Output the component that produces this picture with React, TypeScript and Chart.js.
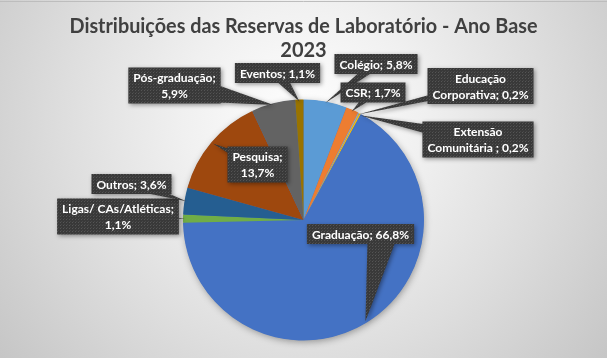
import React, { useEffect, useRef } from "react";
import { Chart, registerables } from "chart.js";

Chart.register(...registerables);

// ---- Data ----
const titleLines = ["Distribuições das Reservas de Laboratório - Ano Base", "2023"];
const categories = [
  "Colégio",
  "CSR",
  "Educação Corporativa",
  "Extensão Comunitária ",
  "Graduação",
  "Ligas/ CAs/Atléticas",
  "Outros",
  "Pesquisa",
  "Pós-graduação",
  "Eventos",
];
const values = [5.8, 1.7, 0.2, 0.2, 66.8, 1.1, 3.6, 13.7, 5.9, 1.1];
const sliceColors = [
  "#5B9BD5",
  "#ED7D31",
  "#A5A5A5",
  "#FFC000",
  "#4472C4",
  "#70AD47",
  "#255E91",
  "#9E480E",
  "#636363",
  "#997300",
];

// ---- Callout layout (box centre, words on first line, tail half-width, tail base shift) ----
const boxCenterX = [376, 373, 480.5, 478, 360.5, 118, 131.5, 257.5, 174.5, 277.5];
const boxCenterY = [64, 92.5, 86, 139.5, 234, 216.5, 184, 164.5, 85.5, 73];
const firstLineWords = [0, 0, 1, 1, 0, 2, 0, 1, 1, 0];
const tailHalfWidth = [5, 5, 5, 8, 15, 6, 6, 6, 15, 7];
const tailBaseShiftX = [0, 0, 0, 0, 22, 0, 0, 0, 0, 0];

const fmt = (v: number) => v.toFixed(1).replace(".", ",") + "%";

function labelLines(i: number): string[] {
  const full = `${categories[i]}; ${fmt(values[i])}`;
  const n = firstLineWords[i];
  if (!n) return [full];
  const words = full.split(" ");
  return [words.slice(0, n).join(" "), words.slice(n).join(" ")];
}

const LABEL_FONT = "bold 12px Lato, 'Open Sans', sans-serif";
const TITLE_FONT = "bold 20px Lato, 'Open Sans', sans-serif";

function makePattern(ctx: CanvasRenderingContext2D) {
  const pc = document.createElement("canvas");
  pc.width = 3;
  pc.height = 3;
  const g = pc.getContext("2d")!;
  g.fillStyle = "#393939";
  g.fillRect(0, 0, 3, 3);
  g.fillStyle = "#555555";
  g.fillRect(0, 0, 1, 1);
  g.fillStyle = "#474747";
  g.fillRect(1, 2, 1, 1);
  return ctx.createPattern(pc, "repeat") || "#3c3c3c";
}

const decorPlugin = {
  id: "decor",
  beforeDraw(chart: any) {
    const { ctx, width, height } = chart;
    ctx.save();
    const grad = ctx.createRadialGradient(303, 120, 0, 303, 120, 390);
    grad.addColorStop(0, "#ffffff");
    grad.addColorStop(0.31, "#f0f0f0");
    grad.addColorStop(0.61, "#dedede");
    grad.addColorStop(1, "#c5c5c5");
    ctx.fillStyle = grad;
    ctx.fillRect(0, 0, width, height);
    ctx.strokeStyle = "#bdbdbd";
    ctx.lineWidth = 1;
    ctx.beginPath();
    ctx.moveTo(0, 1.5);
    ctx.lineTo(width, 1.5);
    ctx.stroke();
    // title
    ctx.fillStyle = "#404040";
    ctx.font = TITLE_FONT;
    ctx.textAlign = "center";
    ctx.textBaseline = "alphabetic";
    ctx.fillText(titleLines[0], width / 2, 32.5, 468);
    ctx.fillText(titleLines[1], width / 2, 56.5);
    ctx.restore();
  },
  beforeDatasetsDraw(chart: any) {
    const meta = chart.getDatasetMeta(0);
    const arc = meta.data[0];
    if (!arc) return;
    const { ctx } = chart;
    ctx.save();
    ctx.shadowColor = "rgba(0,0,0,0.35)";
    ctx.shadowBlur = 7;
    ctx.shadowOffsetX = 1;
    ctx.shadowOffsetY = 2;
    ctx.fillStyle = "#4472C4";
    ctx.beginPath();
    ctx.arc(arc.x, arc.y, arc.outerRadius - 0.5, 0, Math.PI * 2);
    ctx.fill();
    ctx.restore();
  },
  afterDatasetsDraw(chart: any) {
    const { ctx } = chart;
    const meta = chart.getDatasetMeta(0);
    const pattern = makePattern(ctx);
    const lineH = 16;
    const padX = 5;
    const padY = 2;
    meta.data.forEach((arc: any, i: number) => {
      const lines = labelLines(i);
      ctx.save();
      ctx.font = LABEL_FONT;
      const w = Math.max(...lines.map((l) => ctx.measureText(l).width)) + padX * 2;
      const h = lines.length * lineH + padY * 2;
      const cx = boxCenterX[i];
      const cy = boxCenterY[i];
      const bx = cx - w / 2;
      const by = cy - h / 2;
      const mid = (arc.startAngle + arc.endAngle) / 2;
      const r = arc.outerRadius * 0.985;
      const tx = arc.x + Math.cos(mid) * r;
      const ty = arc.y + Math.sin(mid) * r;
      const sx = cx + tailBaseShiftX[i];
      const sy = cy;
      let dx = tx - sx;
      let dy = ty - sy;
      const len = Math.hypot(dx, dy) || 1;
      dx /= len;
      dy /= len;
      const hw = tailHalfWidth[i];
      let p1 = [sx - dy * hw, sy + dx * hw];
      let p2 = [sx + dy * hw, sy - dx * hw];
      const cross = (p1[0] - tx) * (p2[1] - ty) - (p1[1] - ty) * (p2[0] - tx);
      if (cross < 0) {
        const t = p1;
        p1 = p2;
        p2 = t;
      }
      ctx.beginPath();
      ctx.rect(bx, by, w, h);
      ctx.moveTo(tx, ty);
      ctx.lineTo(p1[0], p1[1]);
      ctx.lineTo(p2[0], p2[1]);
      ctx.closePath();
      ctx.shadowColor = "rgba(0,0,0,0.4)";
      ctx.shadowBlur = 4;
      ctx.shadowOffsetX = 1.5;
      ctx.shadowOffsetY = 1.5;
      ctx.fillStyle = pattern;
      ctx.fill("nonzero");
      ctx.shadowColor = "transparent";
      ctx.fillStyle = "#ffffff";
      ctx.textAlign = "center";
      ctx.textBaseline = "alphabetic";
      lines.forEach((l, k) => {
        ctx.fillText(l, cx, by + padY + lineH * k + 12.5);
      });
      ctx.restore();
    });
  },
};

export default function App() {
  const ref = useRef<HTMLCanvasElement | null>(null);
  useEffect(() => {
    if (!ref.current) return;
    const chart = new Chart(ref.current, {
      type: "pie",
      data: {
        labels: categories,
        datasets: [
          {
            data: values,
            backgroundColor: sliceColors,
            borderWidth: 0,
          },
        ],
      },
      options: {
        responsive: false,
        animation: false,
        layout: { padding: { top: 99.5, bottom: 17.5, left: 0, right: 0 } },
        plugins: {
          legend: { display: false },
          title: { display: false },
          tooltip: { enabled: false },
        },
      },
      plugins: [decorPlugin],
    });
    return () => chart.destroy();
  }, []);
  return (
    <div style={{ position: "fixed", left: 0, top: 0, width: 607, height: 358 }}>
      <canvas ref={ref} width={607} height={358} style={{ display: "block" }} />
    </div>
  );
}
